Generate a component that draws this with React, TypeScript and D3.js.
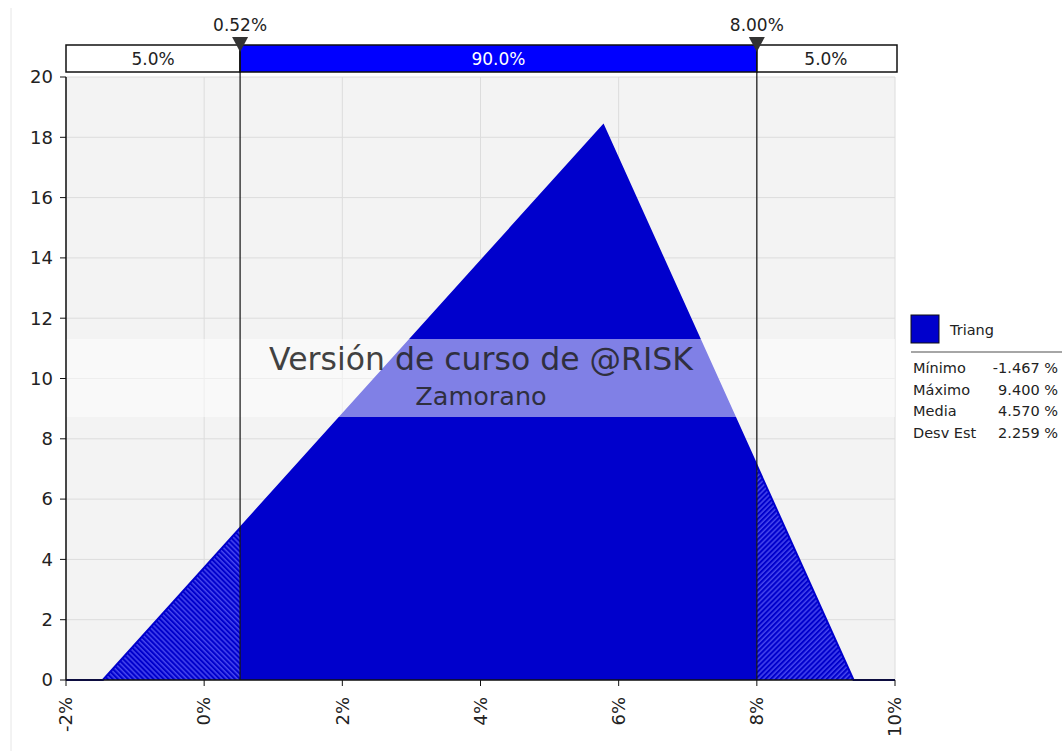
import * as d3 from 'd3';

const xTicks = [-2, 0, 2, 4, 6, 8, 10];
const yTicks = [0, 2, 4, 6, 8, 10, 12, 14, 16, 18, 20];
const densityX = [-2, -1.467, 5.777, 9.4, 10];
const densityY = [0, 0, 18.4, 0, 0];
const markers = [0.52, 8.0];
const markerLabels = ['0.52%', '8.00%'];
const bandLabels = ['5.0%', '90.0%', '5.0%'];
const seriesName = 'Triang';
const statNames = ['Mínimo', 'Máximo', 'Media', 'Desv Est'];
const statValues = ['-1.467 %', '9.400 %', '4.570 %', '2.259 %'];
const watermark = ['Versión de curso de @RISK', 'Zamorano'];

const W = 1062;
const H = 751;
const FONT = 'DejaVu Sans, sans-serif';
const FILL = '#0000cc';
const HATCH = 3.6;

export default function App() {
  const x = d3.scaleLinear().domain([-2, 10]).range([66, 895]);
  const y = d3.scaleLinear().domain([0, 20]).range([680, 77]);

  const pts = densityX.map((v, i) => [v, densityY[i]] as [number, number]);
  const area = d3.area<[number, number]>()
    .x(d => x(d[0]))
    .y0(y(0))
    .y1(d => y(d[1]))(pts) || '';
  const line = d3.line<[number, number]>()
    .x(d => x(d[0]))
    .y(d => y(d[1]))(pts) || '';

  const [lo, hi] = markers;
  const [dMin, dMax] = x.domain();
  const regions = [
    { id: 'cl', from: dMin, to: lo, fill: 'url(#hatchL)' },
    { id: 'cm', from: lo, to: hi, fill: FILL },
    { id: 'cr', from: hi, to: dMax, fill: 'url(#hatchR)' },
  ];

  const bandTop = 45;
  const bandBot = 72;
  const cells = [
    { from: dMin, to: lo, fill: '#fff', color: '#222' },
    { from: lo, to: hi, fill: '#0000ff', color: '#fff' },
    { from: hi, to: dMax, fill: '#fff', color: '#222' },
  ];

  const wmTop = 339;
  const wmBot = 417;

  return (
    <svg width={W} height={H} style={{ position: 'absolute', left: 0, top: 0, background: '#fff' }}
      fontFamily={FONT}>
      <defs>
        <pattern id="hatchL" patternUnits="userSpaceOnUse" width={HATCH} height={HATCH}
          patternTransform="rotate(-45)">
          <rect width={HATCH} height={HATCH} fill={FILL} />
          <line x1={1} y1={0} x2={1} y2={HATCH} stroke="#6a6aff" strokeWidth={1} />
        </pattern>
        <pattern id="hatchR" patternUnits="userSpaceOnUse" width={HATCH} height={HATCH}
          patternTransform="rotate(45)">
          <rect width={HATCH} height={HATCH} fill={FILL} />
          <line x1={1} y1={0} x2={1} y2={HATCH} stroke="#6a6aff" strokeWidth={1} />
        </pattern>
        {regions.map(r => (
          <clipPath id={r.id} key={r.id}>
            <rect x={x(r.from)} y={0} width={x(r.to) - x(r.from)} height={H} />
          </clipPath>
        ))}
      </defs>

      <line x1={11} x2={11} y1={8} y2={H} stroke="#e6e6e6" />

      {/* plot background and grid */}
      <rect x={x(dMin)} y={y(20)} width={x(dMax) - x(dMin)} height={y(0) - y(20)} fill="#f3f3f3" />
      {yTicks.map(t => (
        <line key={'gy' + t} x1={x(dMin)} x2={x(dMax)} y1={y(t)} y2={y(t)} stroke="#dcdcdc" />
      ))}
      {xTicks.map(t => (
        <line key={'gx' + t} x1={x(t)} x2={x(t)} y1={y(20)} y2={y(0)} stroke="#dcdcdc" />
      ))}

      {/* density */}
      {regions.map(r => (
        <path key={'a' + r.id} d={area} fill={r.fill} clipPath={`url(#${r.id})`} />
      ))}
      <path d={line} fill="none" stroke={FILL} strokeWidth={2} />

      {/* watermark */}
      <rect x={x(dMin)} y={wmTop} width={x(dMax) - x(dMin)} height={wmBot - wmTop} fill="#fff" opacity={0.5} />
      <text x={481} y={370} textAnchor="middle" fontSize={31.5} fill="#222" opacity={0.85}>{watermark[0]}</text>
      <text x={481} y={405} textAnchor="middle" fontSize={25.5} fill="#222" opacity={0.85}>{watermark[1]}</text>

      {/* axes */}
      <line x1={x(dMin)} x2={x(dMin)} y1={y(20)} y2={y(0)} stroke="#111" strokeWidth={1.5} />
      <line x1={x(dMin)} x2={x(dMax)} y1={y(0)} y2={y(0)} stroke="#111" strokeWidth={1.5} />
      {yTicks.map(t => (
        <g key={'ty' + t}>
          <line x1={x(dMin) - 6} x2={x(dMin)} y1={y(t)} y2={y(t)} stroke="#111" />
          <text x={x(dMin) - 13} y={y(t)} dy="0.35em" textAnchor="end" fontSize={18} fill="#222">{t}</text>
        </g>
      ))}
      {xTicks.map(t => (
        <g key={'tx' + t}>
          <line x1={x(t)} x2={x(t)} y1={y(0)} y2={y(0) + 6} stroke="#111" />
          <text transform={`translate(${x(t)},${y(0) + 17}) rotate(-90)`} dy="0.35em" textAnchor="end"
            fontSize={18} fill="#222">{t}%</text>
        </g>
      ))}

      {/* percentile band */}
      {cells.map((c, i) => (
        <g key={'c' + i}>
          <rect x={x(c.from)} y={bandTop} width={x(c.to) - x(c.from) + (i === 2 ? 2 : 0)} height={bandBot - bandTop}
            fill={c.fill} stroke="#111" strokeWidth={1.5} />
          <text x={(x(c.from) + x(c.to)) / 2} y={(bandTop + bandBot) / 2} dy="0.37em" textAnchor="middle"
            fontSize={17} fill={c.color}>{bandLabels[i]}</text>
        </g>
      ))}
      {markers.map((m, i) => (
        <g key={'m' + i}>
          <line x1={x(m)} x2={x(m)} y1={bandTop} y2={y(0)} stroke="#111" strokeWidth={1.2} />
          <path d={`M${x(m) - 8},${bandTop - 8}L${x(m) + 8},${bandTop - 8}L${x(m)},${bandTop + 7}Z`} fill="#333" />
          <text x={x(m)} y={31} textAnchor="middle" fontSize={17} fill="#222">{markerLabels[i]}</text>
        </g>
      ))}

      {/* legend */}
      <rect x={911} y={315} width={28} height={28} fill={FILL} stroke="#111" />
      <text x={950} y={330} dy="0.35em" fontSize={14.5} fill="#222">{seriesName}</text>
      <line x1={911} x2={W} y1={352} y2={352} stroke="#888" strokeWidth={1.5} />
      {statNames.map((s, i) => (
        <g key={'s' + i}>
          <text x={913} y={368 + i * 21.7} dy="0.35em" fontSize={14.5} fill="#222">{s}</text>
          <text x={1058} y={368 + i * 21.7} dy="0.35em" textAnchor="end" fontSize={14.5} fill="#222">{statValues[i]}</text>
        </g>
      ))}
    </svg>
  );
}
